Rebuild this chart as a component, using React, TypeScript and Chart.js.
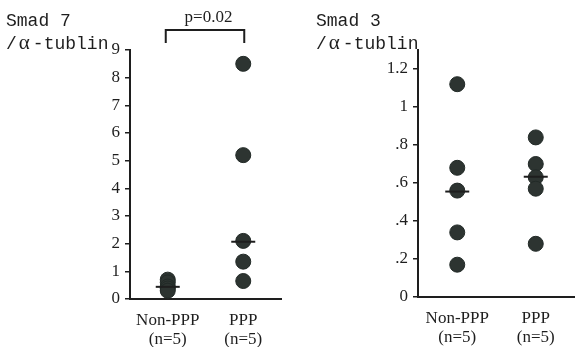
import React, { useEffect, useRef } from "react";
import { Chart, registerables } from "chart.js";

Chart.register(...registerables);

const categories = ["Non-PPP", "PPP"];
const nLabels = ["(n=5)", "(n=5)"];

const smad7NonPPP = [0.7, 0.6, 0.45, 0.38, 0.3];
const smad7PPP = [8.5, 5.2, 2.1, 1.35, 0.65];
const smad7Median = [0.44, 2.07];
const smad7Ticks = [0, 1, 2, 3, 4, 5, 6, 7, 8, 9];
const smad7TickLabels = ["0", "1", "2", "3", "4", "5", "6", "7", "8", "9"];

const smad3NonPPP = [1.12, 0.68, 0.56, 0.34, 0.17];
const smad3PPP = [0.84, 0.7, 0.63, 0.57, 0.28];
const smad3Median = [0.555, 0.633];
const smad3Ticks = [0, 0.2, 0.4, 0.6, 0.8, 1.0, 1.2];
const smad3TickLabels = ["0", ".2", ".4", ".6", ".8", "1", "1.2"];

const pValue = "p=0.02";

const DOT = "#2d3431";
const INK = "#1e1e1e";

type PanelProps = {
  left: number;
  width: number;
  yWidth: number;
  padRight: number;
  bottom: number;
  yMax: number;
  nonPPP: number[];
  ppp: number[];
  median: number[];
  ticks: number[];
  tickLabels: string[];
  bracket?: string;
};

function Panel(p: PanelProps) {
  const ref = useRef<HTMLCanvasElement | null>(null);
  useEffect(() => {
    if (!ref.current) return;
    const height = 347;
    const bracketPlugin = {
      id: "bracket",
      afterDraw(chart: any) {
        if (!p.bracket) return;
        const ctx = chart.ctx;
        const xs = chart.scales.x;
        const x0 = xs.getPixelForValue(0);
        const x1 = xs.getPixelForValue(1);
        ctx.save();
        ctx.strokeStyle = INK;
        ctx.lineWidth = 2;
        ctx.beginPath();
        ctx.moveTo(x0 - 2, 43);
        ctx.lineTo(x0 - 2, 30);
        ctx.lineTo(x1 + 1, 30);
        ctx.lineTo(x1 + 1, 43);
        ctx.stroke();
        ctx.fillStyle = INK;
        ctx.font = "17px 'Liberation Serif'";
        ctx.textAlign = "center";
        ctx.textBaseline = "alphabetic";
        ctx.fillText(p.bracket, (x0 + x1) / 2 + 3, 22);
        ctx.restore();
      },
    };
    const chart = new Chart(ref.current, {
      type: "scatter",
      data: {
        labels: categories,
        datasets: [
          {
            data: p.median.map((v, i) => ({ x: categories[i], y: v })),
            pointStyle: "line",
            radius: 12,
            borderColor: INK,
            borderWidth: 2,
            order: 0,
          } as any,
          {
            data: p.nonPPP.map((v) => ({ x: categories[0], y: v })),
            pointStyle: "circle",
            radius: 7.5,
            backgroundColor: DOT,
            borderColor: "#222a27",
            borderWidth: 1,
            order: 1,
          },
          {
            data: p.ppp.map((v) => ({ x: categories[1], y: v })),
            pointStyle: "circle",
            radius: 7.5,
            backgroundColor: DOT,
            borderColor: "#222a27",
            borderWidth: 1,
            order: 1,
          },
        ],
      },
      options: {
        animation: false,
        responsive: false,
        layout: { autoPadding: false, padding: { left: 0, right: p.padRight, top: 50, bottom: 0 } },
        plugins: { legend: { display: false }, tooltip: { enabled: false } },
        scales: {
          x: {
            type: "category",
            labels: categories,
            offset: true,
            grid: { display: false, drawTicks: false },
            border: { display: true, color: INK, width: 2 },
            ticks: {
              padding: 12,
              color: INK,
              font: { family: "'Liberation Serif'", size: 17, lineHeight: 1.1 },
              callback: (_v: any, i: number) => [categories[i], nLabels[i]],
              maxRotation: 0,
            },
            afterFit: (s: any) => {
              s.height = height - p.bottom;
              s.paddingLeft = 0;
              s.paddingRight = 0;
            },
          } as any,
          y: {
            min: 0,
            max: p.yMax,
            grid: { drawOnChartArea: false, drawTicks: true, tickLength: 5, color: INK, lineWidth: 1.5 },
            border: { display: true, color: INK, width: 2 },
            afterBuildTicks: (s: any) => {
              s.ticks = p.ticks.map((v) => ({ value: v }));
            },
            ticks: {
              padding: 5,
              color: INK,
              font: { family: "'Liberation Serif'", size: 17 },
              callback: (v: any) => {
                const i = p.ticks.findIndex((t) => Math.abs(t - Number(v)) < 1e-6);
                return i >= 0 ? p.tickLabels[i] : "";
              },
            },
            afterFit: (s: any) => {
              s.width = p.yWidth;
              s.paddingTop = 0;
              s.paddingBottom = 0;
            },
          } as any,
        },
      },
      plugins: [bracketPlugin],
    });
    return () => chart.destroy();
  }, []);
  return (
    <canvas
      ref={ref}
      width={p.width}
      height={347}
      style={{ position: "absolute", left: p.left, top: 0, width: p.width, height: 347 }}
    />
  );
}

const titleStyle: React.CSSProperties = {
  position: "absolute",
  fontFamily: "'Liberation Mono', monospace",
  fontSize: 18,
  lineHeight: "21px",
  color: INK,
  whiteSpace: "pre",
};

const alphaStyle: React.CSSProperties = {
  fontFamily: "'Liberation Serif', serif",
  fontSize: 21,
  padding: "0 3px 0 2px",
};

export default function App() {
  return (
    <div style={{ position: "fixed", left: 0, top: 0, width: 575, height: 347, background: "#fff", overflow: "hidden" }}>
      <Panel
        left={0}
        width={290}
        yWidth={130}
        padRight={9}
        bottom={299}
        yMax={9}
        nonPPP={smad7NonPPP}
        ppp={smad7PPP}
        median={smad7Median}
        ticks={smad7Ticks}
        tickLabels={smad7TickLabels}
        bracket={pValue}
      />
      <Panel
        left={290}
        width={285}
        yWidth={128}
        padRight={0}
        bottom={297}
        yMax={1.3}
        nonPPP={smad3NonPPP}
        ppp={smad3PPP}
        median={smad3Median}
        ticks={smad3Ticks}
        tickLabels={smad3TickLabels}
      />
      <div style={{ ...titleStyle, left: 6, top: 11 }}>
        {"Smad 7\n/"}
        <span style={alphaStyle}>α</span>
        {"-tublin"}
      </div>
      <div style={{ ...titleStyle, left: 316, top: 11 }}>
        {"Smad 3\n/"}
        <span style={alphaStyle}>α</span>
        {"-tublin"}
      </div>
    </div>
  );
}
